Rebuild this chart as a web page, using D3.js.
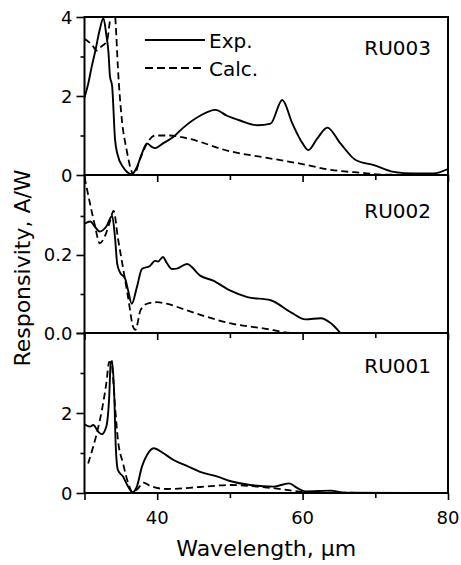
<!DOCTYPE html>
<html>
<head>
<meta charset="utf-8">
<script src="https://cdn.jsdelivr.net/npm/d3@7"></script>
<style>
body { margin: 0; background: #fff; }
text { font-family: "DejaVu Sans", sans-serif; fill: #000; }
</style>
</head>
<body>
<div id="chart"></div>
<script>
// panel labels
var panelNames = ["RU003", "RU002", "RU001"];

// RU003
var ru003ExpX = [30, 30.5, 31, 31.5, 32, 32.6, 33.0, 33.3, 33.5, 33.8, 34.2, 34.5, 35.3, 36.5, 37.2, 37.9, 38.6, 39.2, 39.7, 40.8, 42.2, 43.6, 45.9, 48, 49.6, 51.4, 53.8, 55.6, 57.2, 58.6, 60, 60.8, 62, 63.4, 65.2, 67.3, 69.8, 72.5, 75.3, 78, 80];
var ru003ExpY = [1.96, 2.3, 2.75, 3.15, 3.6, 3.97, 3.55, 3.1, 2.5, 2.25, 0.9, 0.55, 0.2, 0.02, 0.2, 0.55, 0.8, 0.72, 0.68, 0.8, 0.96, 1.2, 1.5, 1.65, 1.5, 1.38, 1.26, 1.3, 1.9, 1.3, 0.8, 0.63, 0.92, 1.2, 0.8, 0.38, 0.25, 0.08, 0.04, 0.04, 0.15];
var ru003CalcX = [30, 31, 31.7, 32.3, 33.1, 33.5, 34.0, 34.3, 34.6, 35.1, 35.8, 36.5, 36.8, 37.6, 38.6, 39.7, 41.8, 44.1, 50, 54.6, 59.3, 63.9, 68.5, 71, 80];
var ru003CalcY = [3.45, 3.3, 3.15, 3.25, 3.4, 3.9, 4.4, 3.8, 2.7, 1.47, 0.63, 0.08, 0.0, 0.38, 0.8, 1.0, 1.0, 0.93, 0.6, 0.45, 0.3, 0.13, 0.05, 0.01, 0];

// RU002
var ru002ExpX = [30, 30.8, 31.4, 32.1, 33, 33.8, 34.2, 34.5, 34.9, 35.6, 36, 36.5, 37.2, 37.9, 39, 39.7, 40.1, 40.8, 41.3, 42, 42.7, 44.1, 45.9, 47.7, 50, 52.4, 55.6, 58.4, 60.4, 62.5, 63.9, 65.2];
var ru002ExpY = [0.28, 0.286, 0.273, 0.26, 0.273, 0.30, 0.244, 0.177, 0.155, 0.139, 0.109, 0.075, 0.117, 0.164, 0.172, 0.185, 0.183, 0.195, 0.18, 0.164, 0.165, 0.177, 0.147, 0.134, 0.109, 0.092, 0.084, 0.053, 0.035, 0.038, 0.025, 0];
var ru002CalcX = [30, 30.8, 31.4, 32.1, 32.8, 33.5, 34, 34.6, 35.3, 36, 36.7, 37, 37.7, 38.6, 40, 41.3, 44.1, 46.9, 50, 54.6, 58.8, 80];
var ru002CalcY = [0.40, 0.328, 0.278, 0.23, 0.248, 0.286, 0.313, 0.243, 0.167, 0.091, 0.015, 0.008, 0.058, 0.075, 0.079, 0.075, 0.058, 0.041, 0.025, 0.012, 0, 0];

// RU001
var ru001ExpX = [30, 30.8, 31.2, 31.9, 32.4, 33, 33.4, 33.6, 33.8, 34.1, 34.3, 34.6, 35.3, 36, 36.6, 37.2, 37.9, 38.6, 39.5, 40.8, 42.2, 44.3, 45.9, 48.3, 50, 52.8, 56, 58.1, 59.3, 60.4, 63.9, 65.7, 80];
var ru001ExpY = [1.72, 1.66, 1.7, 1.53, 1.47, 1.66, 2.41, 3.24, 3.3, 2.41, 1.16, 0.57, 0.41, 0.16, 0.02, 0.16, 0.66, 0.95, 1.12, 1.0, 0.83, 0.66, 0.53, 0.41, 0.3, 0.2, 0.16, 0.24, 0.12, 0.04, 0.06, 0.01, 0];
var ru001CalcX = [30.5, 31.2, 31.7, 32.4, 33, 33.4, 33.7, 34.2, 34.6, 35.3, 36, 36.6, 37.3, 38.1, 39, 41.3, 45.9, 50, 53.8, 56, 59.3, 62, 80];
var ru001CalcY = [0.74, 1.16, 1.5, 2.08, 2.74, 3.28, 3.25, 2.16, 1.33, 0.74, 0.25, 0.02, 0.1, 0.26, 0.18, 0.1, 0.15, 0.2, 0.16, 0.12, 0.04, 0.01, 0];

// axis ticks
var xMajor = [30, 40, 60, 80];
var xMinor = [50, 70];
var xLabels = [40, 60, 80];
var yMajor = [[0, 2, 4], [0, 0.2], [0, 2, 4]];
var yMinor = [[1, 3], [0.1, 0.3], [1, 3]];
var yLabels = [["0", "2", "4"], ["0.0", "0.2"], ["0", "2"]];
var yMax = [4, 0.405, 4];

var W = 461, H = 565;
var left = 84.5, right = 448;
var tops = [17, 175, 333], bottoms = [175, 333, 493];

var svg = d3.select("#chart").append("svg")
  .attr("width", W).attr("height", H);

var x = d3.scaleLinear().domain([30, 80]).range([left, right]);

var series = [
  [ru003ExpX, ru003ExpY, ru003CalcX, ru003CalcY],
  [ru002ExpX, ru002ExpY, ru002CalcX, ru002CalcY],
  [ru001ExpX, ru001ExpY, ru001CalcX, ru001CalcY]
];

var labelY = [55, 218, 373];

series.forEach(function(s, i){
  var y = d3.scaleLinear().domain([0, yMax[i]]).range([bottoms[i], tops[i]]);
  var g = svg.append("g");

  g.append("clipPath").attr("id", "clip" + i)
    .append("rect").attr("x", left).attr("y", tops[i])
    .attr("width", right - left).attr("height", bottoms[i] - tops[i]);

  var line = d3.line()
    .x(function(d){ return x(d[0]); })
    .y(function(d){ return y(d[1]); })
    .curve(d3.curveMonotoneX);

  var exp = d3.zip(s[0], s[1]);
  var calc = d3.zip(s[2], s[3]);

  g.append("path").datum(calc)
    .attr("clip-path", "url(#clip" + i + ")")
    .attr("fill", "none").attr("stroke", "#000")
    .attr("stroke-width", 1.8).attr("stroke-dasharray", "7,4")
    .attr("d", line);
  g.append("path").datum(exp)
    .attr("clip-path", "url(#clip" + i + ")")
    .attr("fill", "none").attr("stroke", "#000")
    .attr("stroke-width", 1.9)
    .attr("d", line);

  // left axis
  var yAx = g.append("g").attr("transform", "translate(" + left + ",0)");
  yAx.call(d3.axisLeft(y).tickValues(yMajor[i]).tickSize(8).tickFormat(""));
  yAx.append("g").call(d3.axisLeft(y).tickValues(yMinor[i]).tickSize(4).tickFormat(""));
  yAx.selectAll(".domain").remove();
  yAx.selectAll("line").attr("stroke", "#000").attr("stroke-width", 1.6);
  g.selectAll("text.ylab").data(yLabels[i]).enter().append("text")
    .attr("class", "ylab")
    .attr("x", left - 12)
    .attr("y", function(d){ return y(+d) + 6.5; })
    .attr("text-anchor", "end")
    .style("font-size", "18px")
    .text(function(d){ return d; });

  // bottom axis
  var xAx = g.append("g").attr("transform", "translate(0," + bottoms[i] + ")");
  xAx.call(d3.axisBottom(x).tickValues(xMajor).tickSize(7).tickFormat(""));
  xAx.append("g").call(d3.axisBottom(x).tickValues(xMinor).tickSize(5).tickFormat(""));
  xAx.selectAll(".domain").remove();
  xAx.selectAll("line").attr("stroke", "#000").attr("stroke-width", 1.6);

  // frame
  g.append("rect").attr("x", left).attr("y", tops[i])
    .attr("width", right - left).attr("height", bottoms[i] - tops[i])
    .attr("fill", "none").attr("stroke", "#000").attr("stroke-width", 2);

  g.append("text").attr("x", 431).attr("y", labelY[i])
    .attr("text-anchor", "end").style("font-size", "20px")
    .text(panelNames[i]);
});

// x tick labels
svg.selectAll("text.xlab").data(xLabels).enter().append("text")
  .attr("class", "xlab")
  .attr("x", function(d){ return x(d); })
  .attr("y", 524)
  .attr("text-anchor", "middle")
  .style("font-size", "18px")
  .text(function(d){ return d; });

// titles
svg.append("text").attr("x", (left + right) / 2).attr("y", 556)
  .attr("text-anchor", "middle").style("font-size", "22px")
  .text("Wavelength, \u03bcm");
svg.append("text")
  .attr("transform", "translate(30,268) rotate(-90)")
  .attr("text-anchor", "middle").style("font-size", "22px")
  .text("Responsivity, A/W");

// legend
var legend = svg.append("g");
legend.append("line").attr("x1", 145).attr("x2", 205).attr("y1", 40).attr("y2", 40)
  .attr("stroke", "#000").attr("stroke-width", 1.9);
legend.append("line").attr("x1", 145).attr("x2", 205).attr("y1", 68).attr("y2", 68)
  .attr("stroke", "#000").attr("stroke-width", 1.8).attr("stroke-dasharray", "8,4");
legend.append("text").attr("x", 209).attr("y", 48).style("font-size", "20px").text("Exp.");
legend.append("text").attr("x", 209).attr("y", 76).style("font-size", "20px").text("Calc.");
</script>
</body>
</html>
